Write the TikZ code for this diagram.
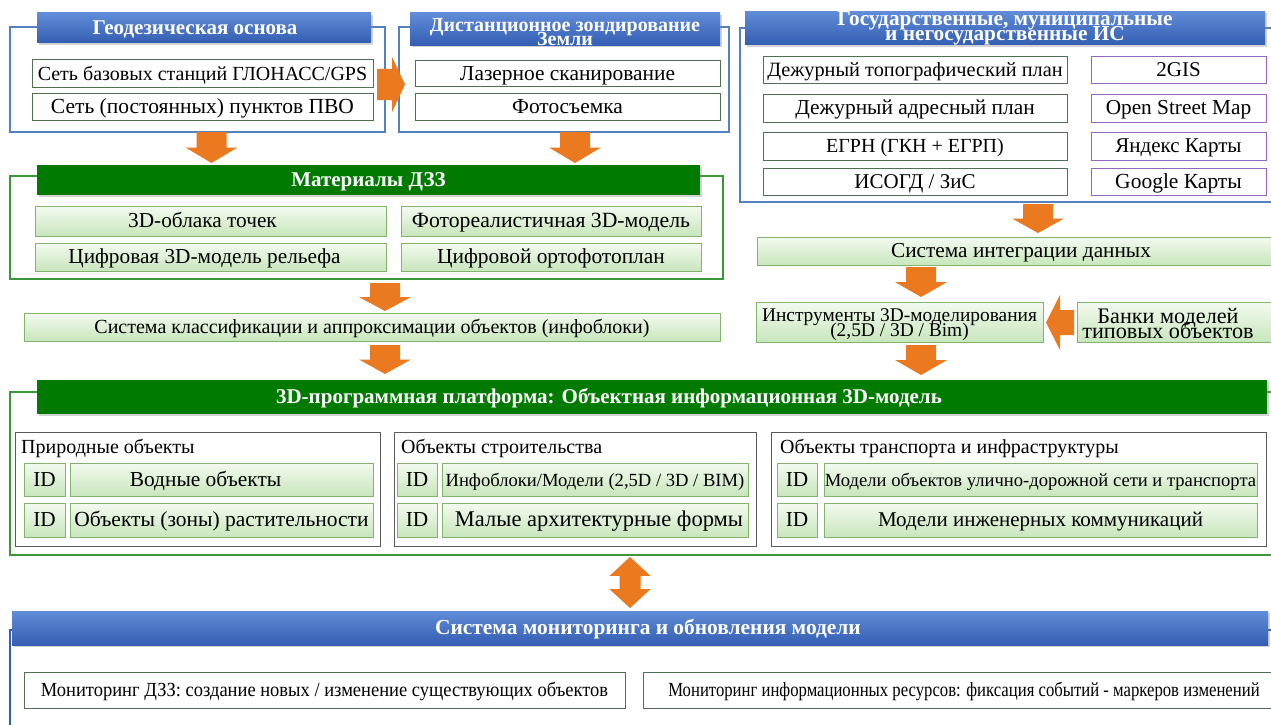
\documentclass[tikz,border=0pt]{standalone}
\usepackage{fontspec}
\usepackage{graphicx}
\setmainfont{Liberation Serif}
\usetikzlibrary{calc,shadows}
\definecolor{obBlue}{RGB}{84,130,190}
\definecolor{obGreen}{RGB}{60,150,60}
\definecolor{hbT}{RGB}{96,140,216}
\definecolor{hbB}{RGB}{52,94,178}
\definecolor{hgreen}{RGB}{0,122,0}
\definecolor{dkGreen}{RGB}{80,112,80}
\definecolor{purp}{RGB}{150,100,190}
\definecolor{lgT}{RGB}{244,250,240}
\definecolor{lgB}{RGB}{200,230,188}
\definecolor{lgBorder}{RGB}{130,180,110}
\definecolor{grayB}{RGB}{90,90,90}
\definecolor{arr}{RGB}{234,121,32}
\newcommand{\fs}[1]{\fontsize{#1}{#1}\selectfont}
\newcommand{\tight}[2]{\fontsize{#1}{#2}\selectfont\lineskiplimit=-50pt\relax}
\newcommand{\mybox}[7][]{\node[inner sep=0pt, outer sep=0pt, minimum width={(#5-#3)*1pt}, minimum height={(#6-#4)*1pt}, #1] (#2) at ({(#3+#5)/2},{(#4+#6)/2}) {#7};}
\newcommand{\blockarrow}[5]{%
  \path (#1) coordinate (ba-s) (#2) coordinate (ba-e) ($(ba-s)!#5!(ba-e)$) coordinate (ba-m);
  \fill[arrowc] ($(ba-s)!#3!90:(ba-e)$) -- ($(ba-m)!#3!90:(ba-e)$) -- ($(ba-m)!#4!90:(ba-e)$) -- (ba-e)
    -- ($(ba-m)!#4!-90:(ba-e)$) -- ($(ba-m)!#3!-90:(ba-e)$) -- ($(ba-s)!#3!-90:(ba-e)$) -- cycle;}
\newcommand{\dblarrow}[5]{%
  \path (#1) coordinate (da-s) (#2) coordinate (da-e) ($(da-s)!#5!(da-e)$) coordinate (da-m1) ($(da-e)!#5!(da-s)$) coordinate (da-m2);
  \fill[arrowc] (da-s) -- ($(da-m1)!#4!90:(da-e)$) -- ($(da-m1)!#3!90:(da-e)$) -- ($(da-m2)!#3!-90:(da-s)$) -- ($(da-m2)!#4!-90:(da-s)$) -- (da-e)
    -- ($(da-m2)!#4!90:(da-s)$) -- ($(da-m2)!#3!90:(da-s)$) -- ($(da-m1)!#3!-90:(da-e)$) -- ($(da-m1)!#4!-90:(da-e)$) -- cycle;}
\begin{document}
\begin{tikzpicture}[x=1pt,y=-1pt,
  cc/.style={text height=13.5pt, text depth=0pt},
  ml/.style={text height=, text depth=, align=center},
  outerblue/.style={draw=obBlue, line width=1.2pt},
  outergreen/.style={draw=obGreen, line width=1.2pt},
  hdr/.style={cc, text=white, font=\bfseries\fs{21}, drop shadow={shadow xshift=1.5pt, shadow yshift=-2pt, opacity=0.35}},
  hdrblue/.style={hdr, top color=hbT, bottom color=hbB},
  hdrgreen/.style={hdr, fill=hgreen},
  wbox/.style={cc, draw=dkGreen, line width=1pt, fill=white, font=\fs{21}},
  pbox/.style={wbox, draw=purp},
  gbox/.style={cc, draw=lgBorder, line width=0.8pt, top color=lgT, bottom color=lgB, font=\fs{21.3}, drop shadow={shadow xshift=1pt, shadow yshift=-1.2pt, opacity=0.25}},
  subbox/.style={draw=grayB, line width=1pt, fill=white},
  lbl/.style={anchor=west, inner sep=0pt, font=\fs{20}},
  monbox/.style={cc, draw=dkGreen, line width=1pt, fill=white, font=\fs{20}},
  arrowc/.style={fill=arr}]
\useasboundingbox (0,0) rectangle (1271,725);
\clip (0,0) rectangle (1271,725);
\fill[white] (0,0) rectangle (1271,725);

% ---------- top row ----------
\mybox[outerblue]{geoO}{10}{27}{385}{132}{}
\mybox[outerblue]{dzzO}{399}{27}{729}{132}{}
\mybox[outerblue]{govO}{740}{28}{1285}{202}{}
\mybox[hdrblue]{geoH}{37}{13}{371}{43}{\hspace*{-18pt}Геодезическая основа}
\mybox[hdrblue, ml, font=\bfseries\tight{20}{13.5}]{dzzH}{410}{13}{720}{45}{\rule{0pt}{19pt}Дистанционное зондирование\\Земли}
\mybox[hdrblue, ml, font=\bfseries\tight{21.3}{15}]{govH}{745}{12}{1265}{44}{Государственные, муниципальные\\и негосударственные ИС}

\mybox[wbox, font=\fs{20}]{g1}{32}{60}{373}{87}{Сеть базовых станций ГЛОНАСС/GPS}
\mybox[wbox, font=\fs{21.5}]{g2}{32}{93}{373}{120}{Сеть (постоянных) пунктов ПВО}
\mybox[wbox, font=\fs{21.4}]{d1}{415}{61}{720}{86}{Лазерное сканирование}
\mybox[wbox, font=\fs{21.4}]{d2}{415}{93}{720}{120}{Фотосъемка}

\mybox[wbox, font=\fs{20.3}]{s1}{763}{57}{1067}{83}{Дежурный топографический план}
\mybox[wbox, font=\fs{21.4}]{s2}{763}{94}{1067}{122}{Дежурный адресный план}
\mybox[wbox, font=\fs{20}]{s3}{763}{132}{1067}{160}{ЕГРН (ГКН + ЕГРП)}
\mybox[wbox]{s4}{763}{168}{1067}{195}{ИСОГД / ЗиС}
\mybox[pbox]{p1}{1091}{57}{1266}{83}{2GIS}
\mybox[pbox, font=\fs{21.3}]{p2}{1091}{94}{1266}{122}{Open Street Map}
\mybox[pbox]{p3}{1091}{132}{1266}{160}{Яндекс Карты}
\mybox[pbox, font=\fs{21.5}]{p4}{1091}{168}{1266}{195}{Google Карты}

% ---------- materials ----------
\mybox[outergreen]{matO}{10}{176}{723}{279}{}
\mybox[hdrgreen]{matH}{37}{165}{700}{195}{Материалы ДЗЗ}
\mybox[gbox]{m1}{35}{206}{386}{236}{\hspace*{-16pt}3D-облака точек}
\mybox[gbox, font=\fs{21.7}]{m2}{401}{206}{701}{236}{Фотореалистичная 3D-модель}
\mybox[gbox]{m3}{35}{243}{386}{271}{\hspace*{-12pt}Цифровая 3D-модель рельефа}
\mybox[gbox, font=\fs{21.4}]{m4}{401}{243}{701}{271}{Цифровой ортофотоплан}

\mybox[gbox, font=\fs{20}]{klass}{24}{313}{720}{341}{Система классификации и аппроксимации объектов (инфоблоки)}
\mybox[gbox]{integr}{757}{237}{1285}{265}{Система интеграции данных}
\mybox[gbox, ml, font=\tight{19.4}{14.5}]{instr}{756}{302}{1043}{342}{\rule{0pt}{18.5pt}Инструменты 3D-моделирования\\(2,5D / 3D / Bim)}
\mybox[gbox, ml, font=\tight{22.2}{15}]{banki}{1077}{302}{1285}{342}{\rule{0pt}{17.5pt}\hspace*{-26pt}Банки моделей\\\hspace*{-26pt}типовых объектов}

% ---------- platform ----------
\mybox[outergreen]{platO}{10}{392}{1285}{555}{}
\mybox[hdrgreen]{platH}{37}{380}{1267}{414}{\hspace*{-86pt}3D-программная платформа: Объектная информационная 3D-модель}

\mybox[subbox]{natB}{15}{432}{380}{546}{}
\mybox[subbox]{strB}{394}{432}{756}{546}{}
\mybox[subbox]{trB}{771}{432}{1266}{546}{}
\node[lbl] (natL) at (21,448) {Природные объекты};
\node[lbl] (strL) at (401,448) {Объекты строительства};
\node[lbl] (trL) at (780,448) {Объекты транспорта и инфраструктуры};

\mybox[gbox]{id1}{24}{463}{65}{496}{ID}
\mybox[gbox, font=\fs{21.4}]{n1}{70}{463}{373}{496}{\hspace*{-32pt}Водные объекты}
\mybox[gbox]{id2}{24}{503}{65}{537}{ID}
\mybox[gbox, font=\fs{21.5}]{n2}{70}{503}{373}{537}{Объекты (зоны) растительности}
\mybox[gbox]{id3}{397}{463}{437}{496}{ID}
\mybox[gbox, font=\fs{18.6}]{c1}{442}{463}{748}{496}{Инфоблоки/Модели (2,5D / 3D / BIM)}
\mybox[gbox]{id4}{397}{503}{437}{537}{ID}
\mybox[gbox, font=\fs{22.5}]{c2}{442}{503}{748}{537}{\hspace*{8pt}Малые архитектурные формы}
\mybox[gbox]{id5}{777}{463}{817}{496}{ID}
\mybox[gbox, font=\fs{18.6}]{t1}{824}{463}{1257}{496}{Модели объектов улично-дорожной сети и транспорта}
\mybox[gbox]{id6}{777}{503}{817}{537}{ID}
\mybox[gbox, font=\fs{21}]{t2}{824}{503}{1257}{537}{Модели инженерных коммуникаций}

% ---------- monitoring ----------
\mybox[outerblue, draw=hbB]{monO}{10}{630}{1285}{760}{}
\mybox[hdrblue, font=\bfseries\fs{21.4}]{monH}{12}{611}{1268}{645}{\hspace*{16pt}Система мониторинга и обновления модели}
\mybox[monbox]{mon1}{24}{672}{625}{708}{\scalebox{0.925}[1]{Мониторинг ДЗЗ: создание новых / изменение существующих объектов}}
\mybox[monbox]{mon2}{643}{672}{1285}{708}{\scalebox{0.835}[1]{Мониторинг информационных ресурсов: фиксация событий - маркеров изменений}}

% ---------- arrows ----------
\coordinate (a1s) at ([xshift=14pt]geoO.south);
\coordinate (a1e) at ($(a1s |- matH.north)+(0,-2)$);
\blockarrow{a1s}{a1e}{15pt}{26pt}{0.5}
\coordinate (a2s) at ([xshift=11pt]dzzO.south);
\coordinate (a2e) at ($(a2s |- matH.north)+(0,-2)$);
\blockarrow{a2s}{a2e}{15pt}{26pt}{0.5}
\coordinate (a3s) at ($([xshift=18.5pt]matO.south)+(0,4)$);
\coordinate (a3e) at ($(a3s |- klass.north)+(0,-2)$);
\blockarrow{a3s}{a3e}{15pt}{26pt}{0.5}
\coordinate (a4s) at ($([xshift=13pt]klass.south)+(0,4)$);
\coordinate (a4e) at ($(a4s |- platH.north)+(0,-6)$);
\blockarrow{a4s}{a4e}{15pt}{26pt}{0.5}
\coordinate (a5s) at ($([xshift=25.5pt]govO.south)+(0,2)$);
\coordinate (a5e) at ($(a5s |- integr.north)+(0,-4)$);
\blockarrow{a5s}{a5e}{15pt}{26pt}{0.5}
\coordinate (a6e) at ($([xshift=21.5pt]instr.north)+(0,-5)$);
\coordinate (a6s) at ($(a6e |- integr.south)+(0,2)$);
\blockarrow{a6s}{a6e}{15pt}{26pt}{0.5}
\coordinate (a7s) at ($([xshift=21.5pt]instr.south)+(0,3)$);
\coordinate (a7e) at ($(a7s |- platH.north)+(0,-5)$);
\blockarrow{a7s}{a7e}{15pt}{26pt}{0.5}
% geo -> dzz
\coordinate (r1s) at ($(geoO.east)+(-8,5)$);
\coordinate (r1e) at ($(r1s -| dzzO.west)+(6,0)$);
\blockarrow{r1s}{r1e}{15.5pt}{27.5pt}{0.54}
% banki -> instr
\coordinate (l1s) at ($(banki.west)+(-3,0.5)$);
\coordinate (l1e) at ($(l1s -| instr.east)+(3,0)$);
\blockarrow{l1s}{l1e}{12.5pt}{27.5pt}{0.5}
% platform <-> monitoring
\coordinate (dbs) at ($([xshift=-17.5pt]platO.south)+(0,2)$);
\coordinate (dbe) at ($(dbs |- monH.north)+(0,-3)$);
\dblarrow{dbs}{dbe}{10.5pt}{20.5pt}{0.37}
\end{tikzpicture}
\end{document}
